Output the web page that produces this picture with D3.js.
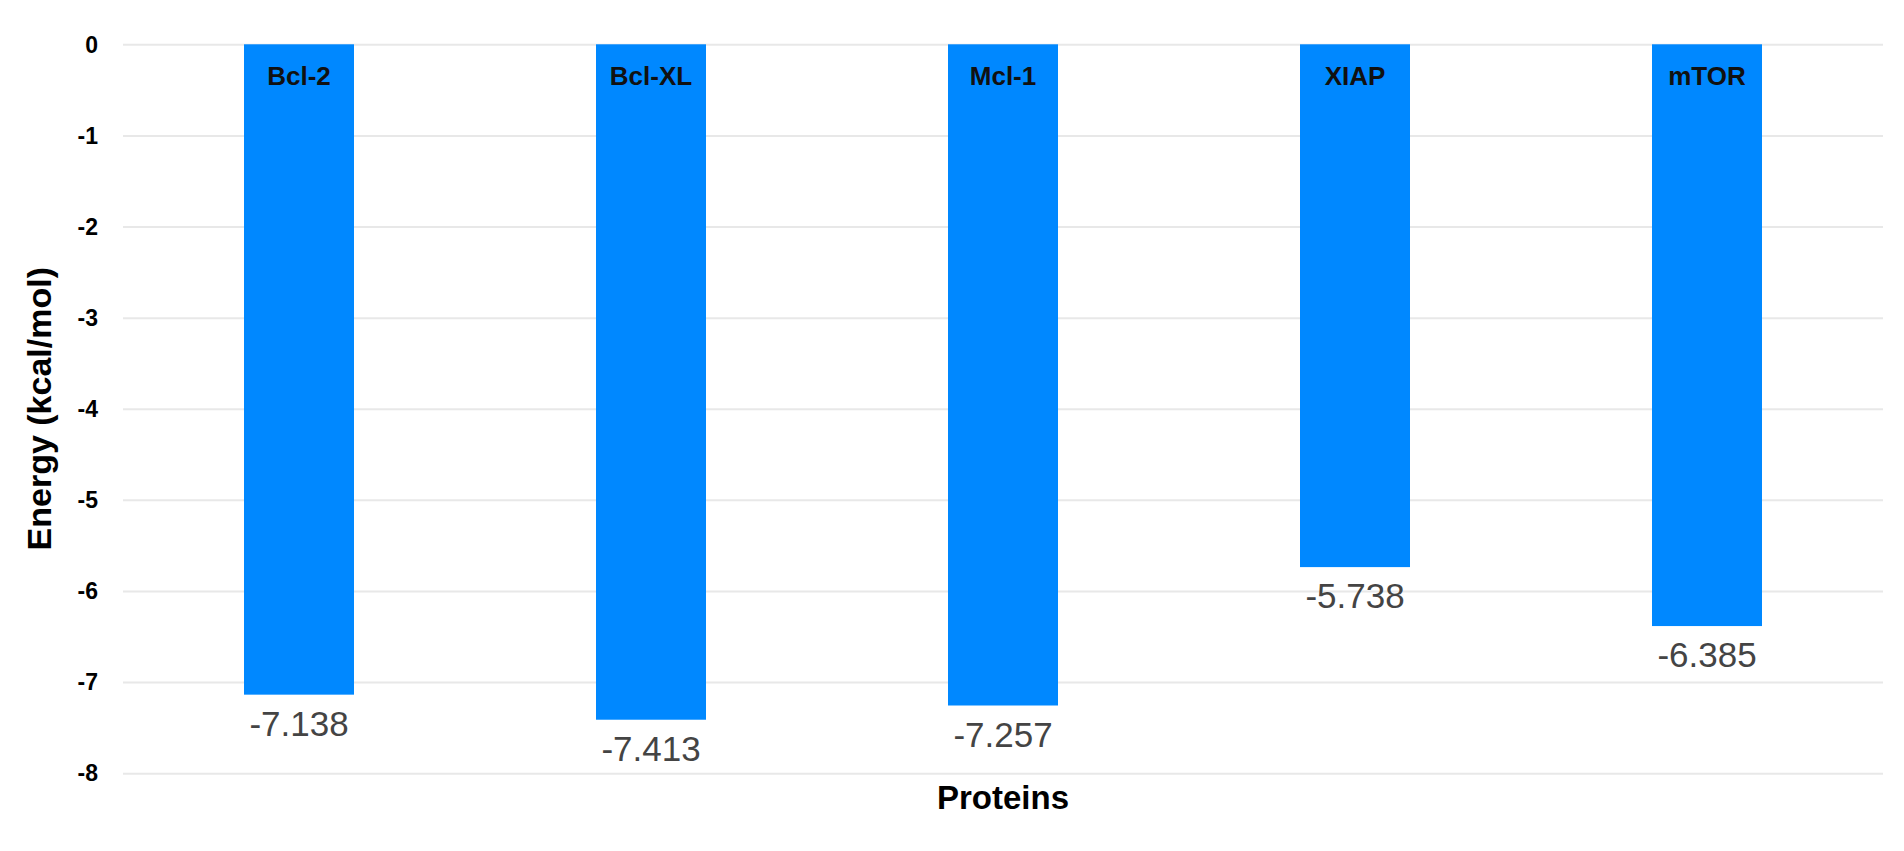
<!DOCTYPE html>
<html>
<head>
<meta charset="utf-8">
<script src="https://cdn.jsdelivr.net/npm/d3@7"></script>
<style>
  body { margin: 0; background: #fff; }
  svg text { font-family: "Liberation Sans", Arial, sans-serif; }
  .grid line { stroke: #e8e8e8; stroke-width: 2; }
  .grid path { display: none; }
</style>
</head>
<body>
<script>
const w = 1904;
const h = 851;

// data
const proteins = ["Bcl-2", "Bcl-XL", "Mcl-1", "XIAP", "mTOR"];
const energies = [-7.138, -7.413, -7.257, -5.738, -6.385];
const yTicks = [0, -1, -2, -3, -4, -5, -6, -7, -8];

const plotLeft = 123, plotRight = 1883, plotTop = 44.3, plotBottom = 773.2;

const svg = d3.select("body")
    .append("svg")
    .attr("width", w)
    .attr("height", h);

const xScale = d3.scaleBand()
    .domain(proteins)
    .range([plotLeft, plotRight])
    .paddingInner(0.6875)
    .paddingOuter(0.34375);

const yScale = d3.scaleLinear()
    .domain([-8, 0])
    .range([plotBottom, plotTop]);

// plain hyphen for negatives, like the original
const fmt = v => String(v);

// gridlines
svg.append("g")
    .attr("class", "grid")
    .attr("transform", "translate(" + plotLeft + ",0)")
    .call(d3.axisLeft(yScale)
        .tickValues(yTicks)
        .tickSize(-(plotRight - plotLeft))
        .tickFormat(""));

// y tick labels
svg.append("g")
    .selectAll("text")
    .data(yTicks)
    .enter()
    .append("text")
    .attr("x", 98)
    .attr("y", d => yScale(d))
    .attr("dy", "0.36em")
    .attr("text-anchor", "end")
    .attr("font-size", 23)
    .attr("font-weight", "bold")
    .attr("fill", "#000")
    .text(d => fmt(d));

const data = proteins.map((p, i) => ({ name: p, value: energies[i] }));

// bars
svg.selectAll("rect.bar")
    .data(data)
    .enter()
    .append("rect")
    .attr("class", "bar")
    .attr("x", d => xScale(d.name))
    .attr("y", yScale(0))
    .attr("width", xScale.bandwidth())
    .attr("height", d => yScale(d.value) - yScale(0))
    .attr("fill", "#0088ff");

// names inside bars
svg.selectAll("text.name")
    .data(data)
    .enter()
    .append("text")
    .attr("class", "name")
    .attr("x", d => xScale(d.name) + xScale.bandwidth() / 2)
    .attr("y", yScale(0) + 41)
    .attr("text-anchor", "middle")
    .attr("font-size", 26)
    .attr("font-weight", "bold")
    .attr("fill", "#111")
    .text(d => d.name);

// value labels below bars
svg.selectAll("text.val")
    .data(data)
    .enter()
    .append("text")
    .attr("class", "val")
    .attr("x", d => xScale(d.name) + xScale.bandwidth() / 2)
    .attr("y", d => yScale(d.value) + 41)
    .attr("text-anchor", "middle")
    .attr("font-size", 35)
    .attr("fill", "#444")
    .text(d => d.value.toFixed(3));

// axis titles
svg.append("text")
    .attr("x", (plotLeft + plotRight) / 2)
    .attr("y", 809)
    .attr("text-anchor", "middle")
    .attr("font-size", 33)
    .attr("font-weight", "bold")
    .attr("fill", "#000")
    .text("Proteins");

svg.append("text")
    .attr("transform", "translate(51," + ((plotTop + plotBottom) / 2) + ") rotate(-90)")
    .attr("text-anchor", "middle")
    .attr("font-size", 34)
    .attr("font-weight", "bold")
    .attr("fill", "#000")
    .text("Energy (kcal/mol)");
</script>
</body>
</html>
